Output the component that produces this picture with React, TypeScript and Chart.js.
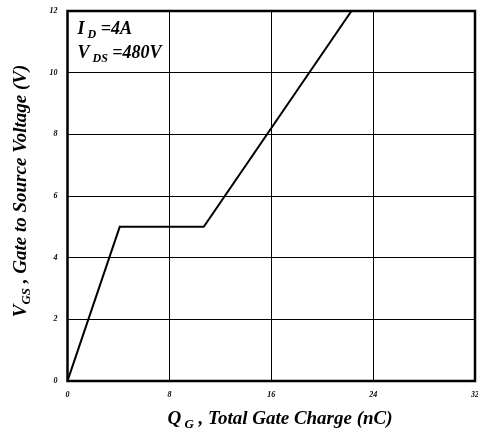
import React, { useEffect, useRef } from "react";
import { Chart, registerables } from "chart.js";

Chart.register(...registerables);

const qg: number[] = [0, 4.1, 10.7, 22.3];
const vgs: number[] = [0, 5, 5, 12];
const xTicks: number[] = [0, 8, 16, 24, 32];
const yTicks: number[] = [0, 2, 4, 6, 8, 10, 12];

const FONT = "'Liberation Serif', 'Times New Roman', serif";

type Part = { t: string; sub?: boolean };

function drawRich(ctx: CanvasRenderingContext2D, parts: Part[], x: number, y: number, size: number, subSize: number, align: "left" | "center") {
  let total = 0;
  const widths = parts.map((p) => {
    ctx.font = `italic bold ${p.sub ? subSize : size}px ${FONT}`;
    const w = ctx.measureText(p.t).width;
    total += w;
    return w;
  });
  let cx = align === "center" ? x - total / 2 : x;
  ctx.textAlign = "left";
  ctx.textBaseline = "alphabetic";
  parts.forEach((p, i) => {
    ctx.font = `italic bold ${p.sub ? subSize : size}px ${FONT}`;
    ctx.fillText(p.t, cx, p.sub ? y + size * 0.22 : y);
    cx += widths[i];
  });
}

const overlay = {
  id: "overlay",
  afterDraw(chart: any) {
    const ctx: CanvasRenderingContext2D = chart.ctx;
    const a = chart.chartArea;
    ctx.save();
    ctx.strokeStyle = "#000";
    ctx.lineWidth = 2.5;
    ctx.strokeRect(a.left, a.top, a.right - a.left, a.bottom - a.top);
    ctx.fillStyle = "#000";
    drawRich(ctx, [{ t: "I" }, { t: " D", sub: true }, { t: " =4A" }], a.left + 10, a.top + 23, 18, 12, "left");
    drawRich(ctx, [{ t: "V" }, { t: " DS", sub: true }, { t: " =480V" }], a.left + 10, a.top + 47, 18, 12, "left");
    drawRich(ctx, [{ t: "Q" }, { t: " G", sub: true }, { t: " , Total Gate Charge (nC)" }], 280, 424, 19, 13, "center");
    ctx.translate(26, 191);
    ctx.rotate(-Math.PI / 2);
    drawRich(ctx, [{ t: "V" }, { t: "GS", sub: true }, { t: " , Gate to Source Voltage (V)" }], 0, 0, 19, 13, "center");
    ctx.restore();
  },
};

export default function App() {
  const ref = useRef<HTMLCanvasElement>(null);
  useEffect(() => {
    document.body.style.margin = "0";
    const chart = new Chart(ref.current as HTMLCanvasElement, {
      type: "line",
      data: {
        datasets: [
          {
            data: qg.map((x, i) => ({ x, y: vgs[i] })),
            borderColor: "#000",
            borderWidth: 2,
            pointRadius: 0,
            tension: 0,
          },
        ],
      },
      options: {
        animation: false,
        responsive: false,
        layout: { padding: { top: 11, right: 3, left: 0, bottom: 0 } },
        plugins: { legend: { display: false }, tooltip: { enabled: false } },
        scales: {
          x: {
            type: "linear",
            min: 0,
            max: 32,
            afterBuildTicks: (s: any) => {
              s.ticks = xTicks.map((v) => ({ value: v }));
            },
            afterFit: (s: any) => {
              s.height = 54;
              s.paddingLeft = 0;
              s.paddingRight = 0;
            },
            grid: { color: "#000", lineWidth: 1, drawTicks: false },
            border: { display: false },
            ticks: {
              padding: 9,
              color: "#000",
              font: { family: FONT, size: 8, style: "italic", weight: "bold" },
            },
          },
          y: {
            type: "linear",
            min: 0,
            max: 12,
            afterBuildTicks: (s: any) => {
              s.ticks = yTicks.map((v) => ({ value: v }));
            },
            afterFit: (s: any) => {
              s.width = 67.5;
              s.paddingTop = 0;
              s.paddingBottom = 0;
            },
            grid: { color: "#000", lineWidth: 1, drawTicks: false },
            border: { display: false },
            ticks: {
              padding: 10,
              color: "#000",
              font: { family: FONT, size: 8, style: "italic", weight: "bold" },
            },
          },
        },
      },
      plugins: [overlay],
    });
    return () => chart.destroy();
  }, []);
  return (
    <div style={{ position: "absolute", left: 0, top: 0, width: 478, height: 435, background: "#fff" }}>
      <canvas ref={ref} width={478} height={435} style={{ display: "block" }} />
    </div>
  );
}
